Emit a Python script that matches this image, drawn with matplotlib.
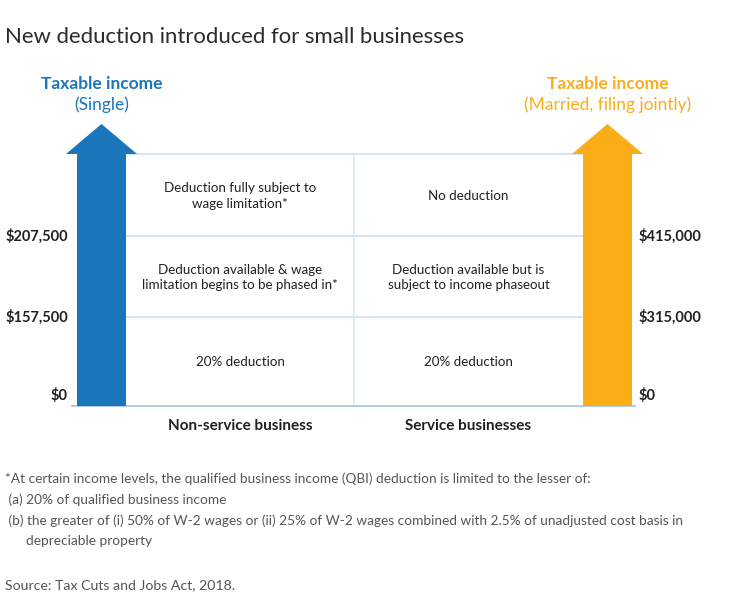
import matplotlib
matplotlib.use("Agg")
import matplotlib.pyplot as plt
from matplotlib.patches import Polygon

# ---------------- data ----------------
categories = ["Non-service business", "Service businesses"]
single_thresholds = [0, 157500, 207500]
married_thresholds = [0, 315000, 415000]
nonservice_cells = ["20% deduction",
                    "Deduction available & wage\nlimitation begins to be phased in*",
                    "Deduction fully subject to\nwage limitation*"]
service_cells = ["20% deduction",
                 "Deduction available but is\nsubject to income phaseout",
                 "No deduction"]
left_header = ["Taxable income", "(Single)"]
right_header = ["Taxable income", "(Married, filing jointly)"]
title = "New deduction introduced for small businesses"
footnote_lines = [
    "*At certain income levels, the qualified business income (QBI) deduction is limited to the lesser of:",
    " (a) 20% of qualified business income",
    " (b) the greater of (i) 50% of W-2 wages or (ii) 25% of W-2 wages combined with 2.5% of unadjusted cost basis in",
    "      depreciable property",
]
source = "Source: Tax Cuts and Jobs Act, 2018."

# ---------------- style ----------------
plt.rcParams['font.family'] = ['Lato', 'DejaVu Sans']
BLUE = "#1b75bb"
ORANGE = "#fbad18"
GRID = "#c9def0"
TXT = "#231f20"
GREY = "#555555"

W, H = 750, 614
fig = plt.figure(figsize=(W / 100, H / 100), dpi=100)
fig.patch.set_facecolor("white")
ax = fig.add_axes([0, 0, 1, 1])
ax.set_axis_off()
ax.set_xlim(0, W)
ax.set_ylim(H, 0)   # px from top

# layout (px): vertical positions of band edges, bottom to top
BAND_EDGES = [406, 317, 236, 154]
TIP_Y = 124
L_SHAFT = (77, 126)
R_SHAFT = (583, 632)
HEAD_PAD = 11
DIVIDER_X = 354
top = BAND_EDGES[-1]
base = BAND_EDGES[0]


def arrow(shaft, color):
    x0, x1 = shaft
    xc = (x0 + x1) / 2
    pts = [(x0, base), (x1, base), (x1, top), (x1 + HEAD_PAD, top), (xc, TIP_Y),
           (x0 - HEAD_PAD, top), (x0, top)]
    ax.add_patch(Polygon(pts, closed=True, facecolor=color, edgecolor="none", zorder=3))


# grid lines
for y in BAND_EDGES[1:]:
    ax.plot([L_SHAFT[1], R_SHAFT[0]], [y, y], color=GRID, lw=1.1, zorder=1)
ax.plot([72, 635], [base, base], color="#a9c7e3", lw=1.3, zorder=2)
ax.plot([DIVIDER_X, DIVIDER_X], [base, top], color="#d6e6f3", lw=1.1, zorder=1)

arrow(L_SHAFT, BLUE)
arrow(R_SHAFT, ORANGE)

# threshold labels
for i, (s, m) in enumerate(zip(single_thresholds, married_thresholds)):
    y = BAND_EDGES[i] - (10 if i == 0 else 0)
    ax.text(68, y, f"${s:,}", ha="right", va="center", fontsize=10.5,
            fontweight="bold", color=TXT)
    ax.text(639, y, f"${m:,}", ha="left", va="center", fontsize=10.5,
            fontweight="bold", color=TXT)

# cells
col_centers = [(L_SHAFT[1] + DIVIDER_X) / 2, (DIVIDER_X + R_SHAFT[0]) / 2]
for cx, cells in zip(col_centers, [nonservice_cells, service_cells]):
    for i, t in enumerate(cells):
        yc = (BAND_EDGES[i] + BAND_EDGES[i + 1]) / 2
        ax.text(cx, yc + 1, t, ha="center", va="center", fontsize=9.6,
                color=TXT, linespacing=1.3)

# column labels
for cx, c in zip(col_centers, categories):
    ax.text(cx, base + 20, c, ha="center", va="center", fontsize=11,
            fontweight="bold", color=TXT)

# headers
for shaft, hdr, col in [(L_SHAFT, left_header, BLUE), (R_SHAFT, right_header, ORANGE)]:
    xc = (shaft[0] + shaft[1]) / 2
    ax.text(xc, 84, hdr[0], ha="center", va="center", fontsize=12.5,
            fontweight="bold", color=col)
    ax.text(xc, 105, hdr[1], ha="center", va="center", fontsize=12.5,
            color=col)

# title
ax.text(5, 37, title, ha="left", va="center", fontsize=15.9,
        fontweight="normal", color="#2b2b2b")

# footnotes
fy = [479, 500, 521, 541]
for y, line in zip(fy, footnote_lines):
    ax.text(5, y, line, ha="left", va="center", fontsize=9.8,
            fontweight="normal", color=GREY)
ax.text(5, 585, source, ha="left", va="center", fontsize=10.2,
        fontweight="normal", color=GREY)

fig.savefig("out.png", dpi=100, facecolor=fig.get_facecolor())
